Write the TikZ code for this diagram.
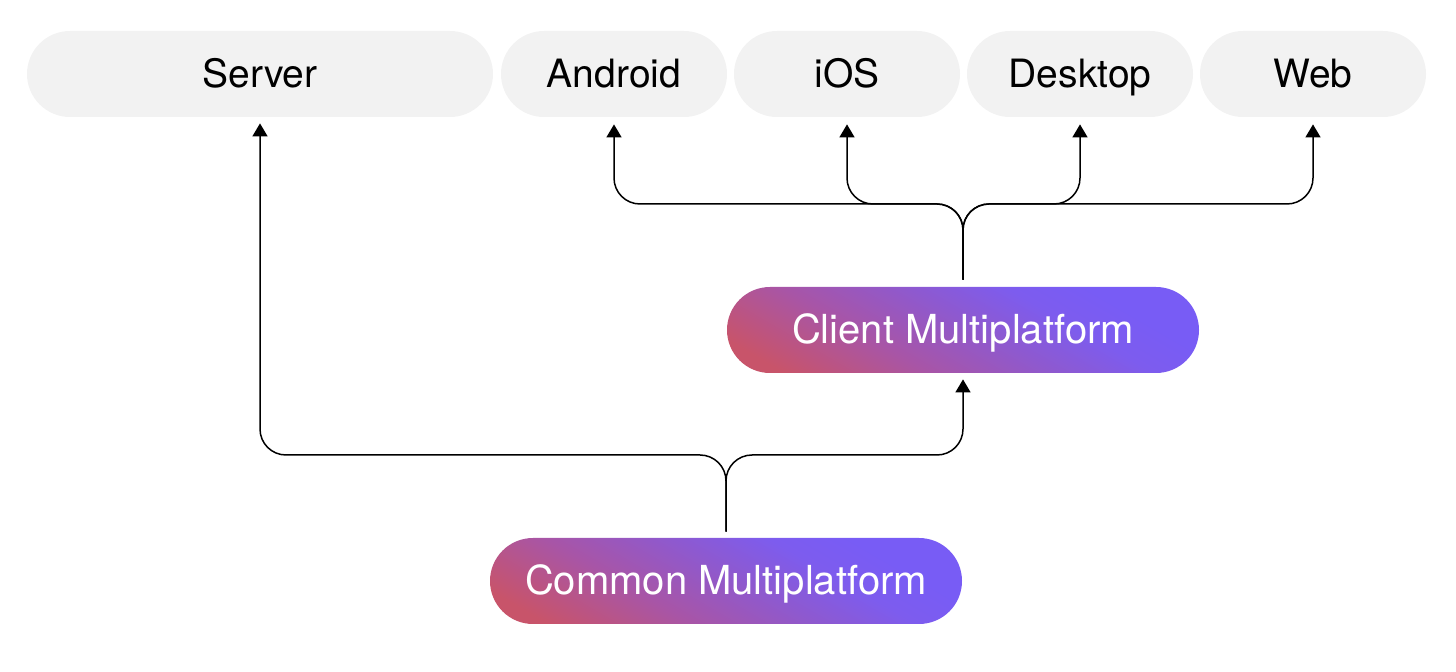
\documentclass[tikz,border=0pt]{standalone}
\usepackage{fontspec}
\setmainfont{TeX Gyre Heros}
\usetikzlibrary{arrows.meta}
\definecolor{boxgray}{HTML}{F2F2F2}
\definecolor{kred}{HTML}{C8546A}
\definecolor{kmag}{HTML}{A855A6}
\definecolor{kpur}{HTML}{8E59CF}
\definecolor{kvio}{HTML}{7D5CEE}
\definecolor{kend}{HTML}{785CF5}
\pgfdeclarehorizontalshading{kmp}{100bp}{color(0bp)=(kred); color(22bp)=(kred); color(38bp)=(kmag); color(52bp)=(kpur); color(63bp)=(kvio); color(72bp)=(kend); color(100bp)=(kend)}
\tikzset{
  platbox/.style={rectangle, rounded corners=21.5pt, fill=boxgray, minimum height=43pt,
    inner sep=0pt, text height=14pt, text depth=0pt, font=\fontsize{19.5}{23}\selectfont, text=black},
  kmpbox/.style={rectangle, rounded corners=21.5pt, shade, shading=kmp, shading angle=60,
    minimum height=43pt, minimum width=236pt, inner sep=0pt, text height=14pt, text depth=0pt,
    font=\fontsize{20}{24}\selectfont, text=white},
  conn/.style={line width=0.75pt, rounded corners=13pt, -{Triangle[width=7.5pt,length=6.5pt]}}
}
\begin{document}
\begin{tikzpicture}[x=0.5pt,y=-0.5pt]
\useasboundingbox (0,0) rectangle (1456,672);
\node[platbox, minimum width=233pt] (server) at (260,74) {Server};
\node[platbox, minimum width=113pt] (android) at (614,74) {Android};
\node[platbox, minimum width=113pt] (ios) at (847,74) {iOS};
\node[platbox, minimum width=113pt] (desktop) at (1080,74) {Desktop};
\node[platbox, minimum width=113pt] (web) at (1313,74) {Web};
\node[kmpbox] (client) at (963,330) {Client Multiplatform};
\node[kmpbox] (common) at (726,581) {Common Multiplatform};
\coordinate (h1) at (963,204);
\coordinate (h2) at (726,455);
\draw[conn] ([yshift=3.5pt]client.north) -- (h1) -| ([yshift=-3.5pt]android.south);
\draw[conn] ([yshift=3.5pt]client.north) -- (h1) -| ([yshift=-3.5pt]ios.south);
\draw[conn] ([yshift=3.5pt]client.north) -- (h1) -| ([yshift=-3.5pt]desktop.south);
\draw[conn] ([yshift=3.5pt]client.north) -- (h1) -| ([yshift=-3.5pt]web.south);
\draw[conn] ([yshift=3pt]common.north) -- (h2) -| ([yshift=-3pt]server.south);
\draw[conn] ([yshift=3pt]common.north) -- (h2) -| ([yshift=-3pt]client.south);
\end{tikzpicture}
\end{document}
